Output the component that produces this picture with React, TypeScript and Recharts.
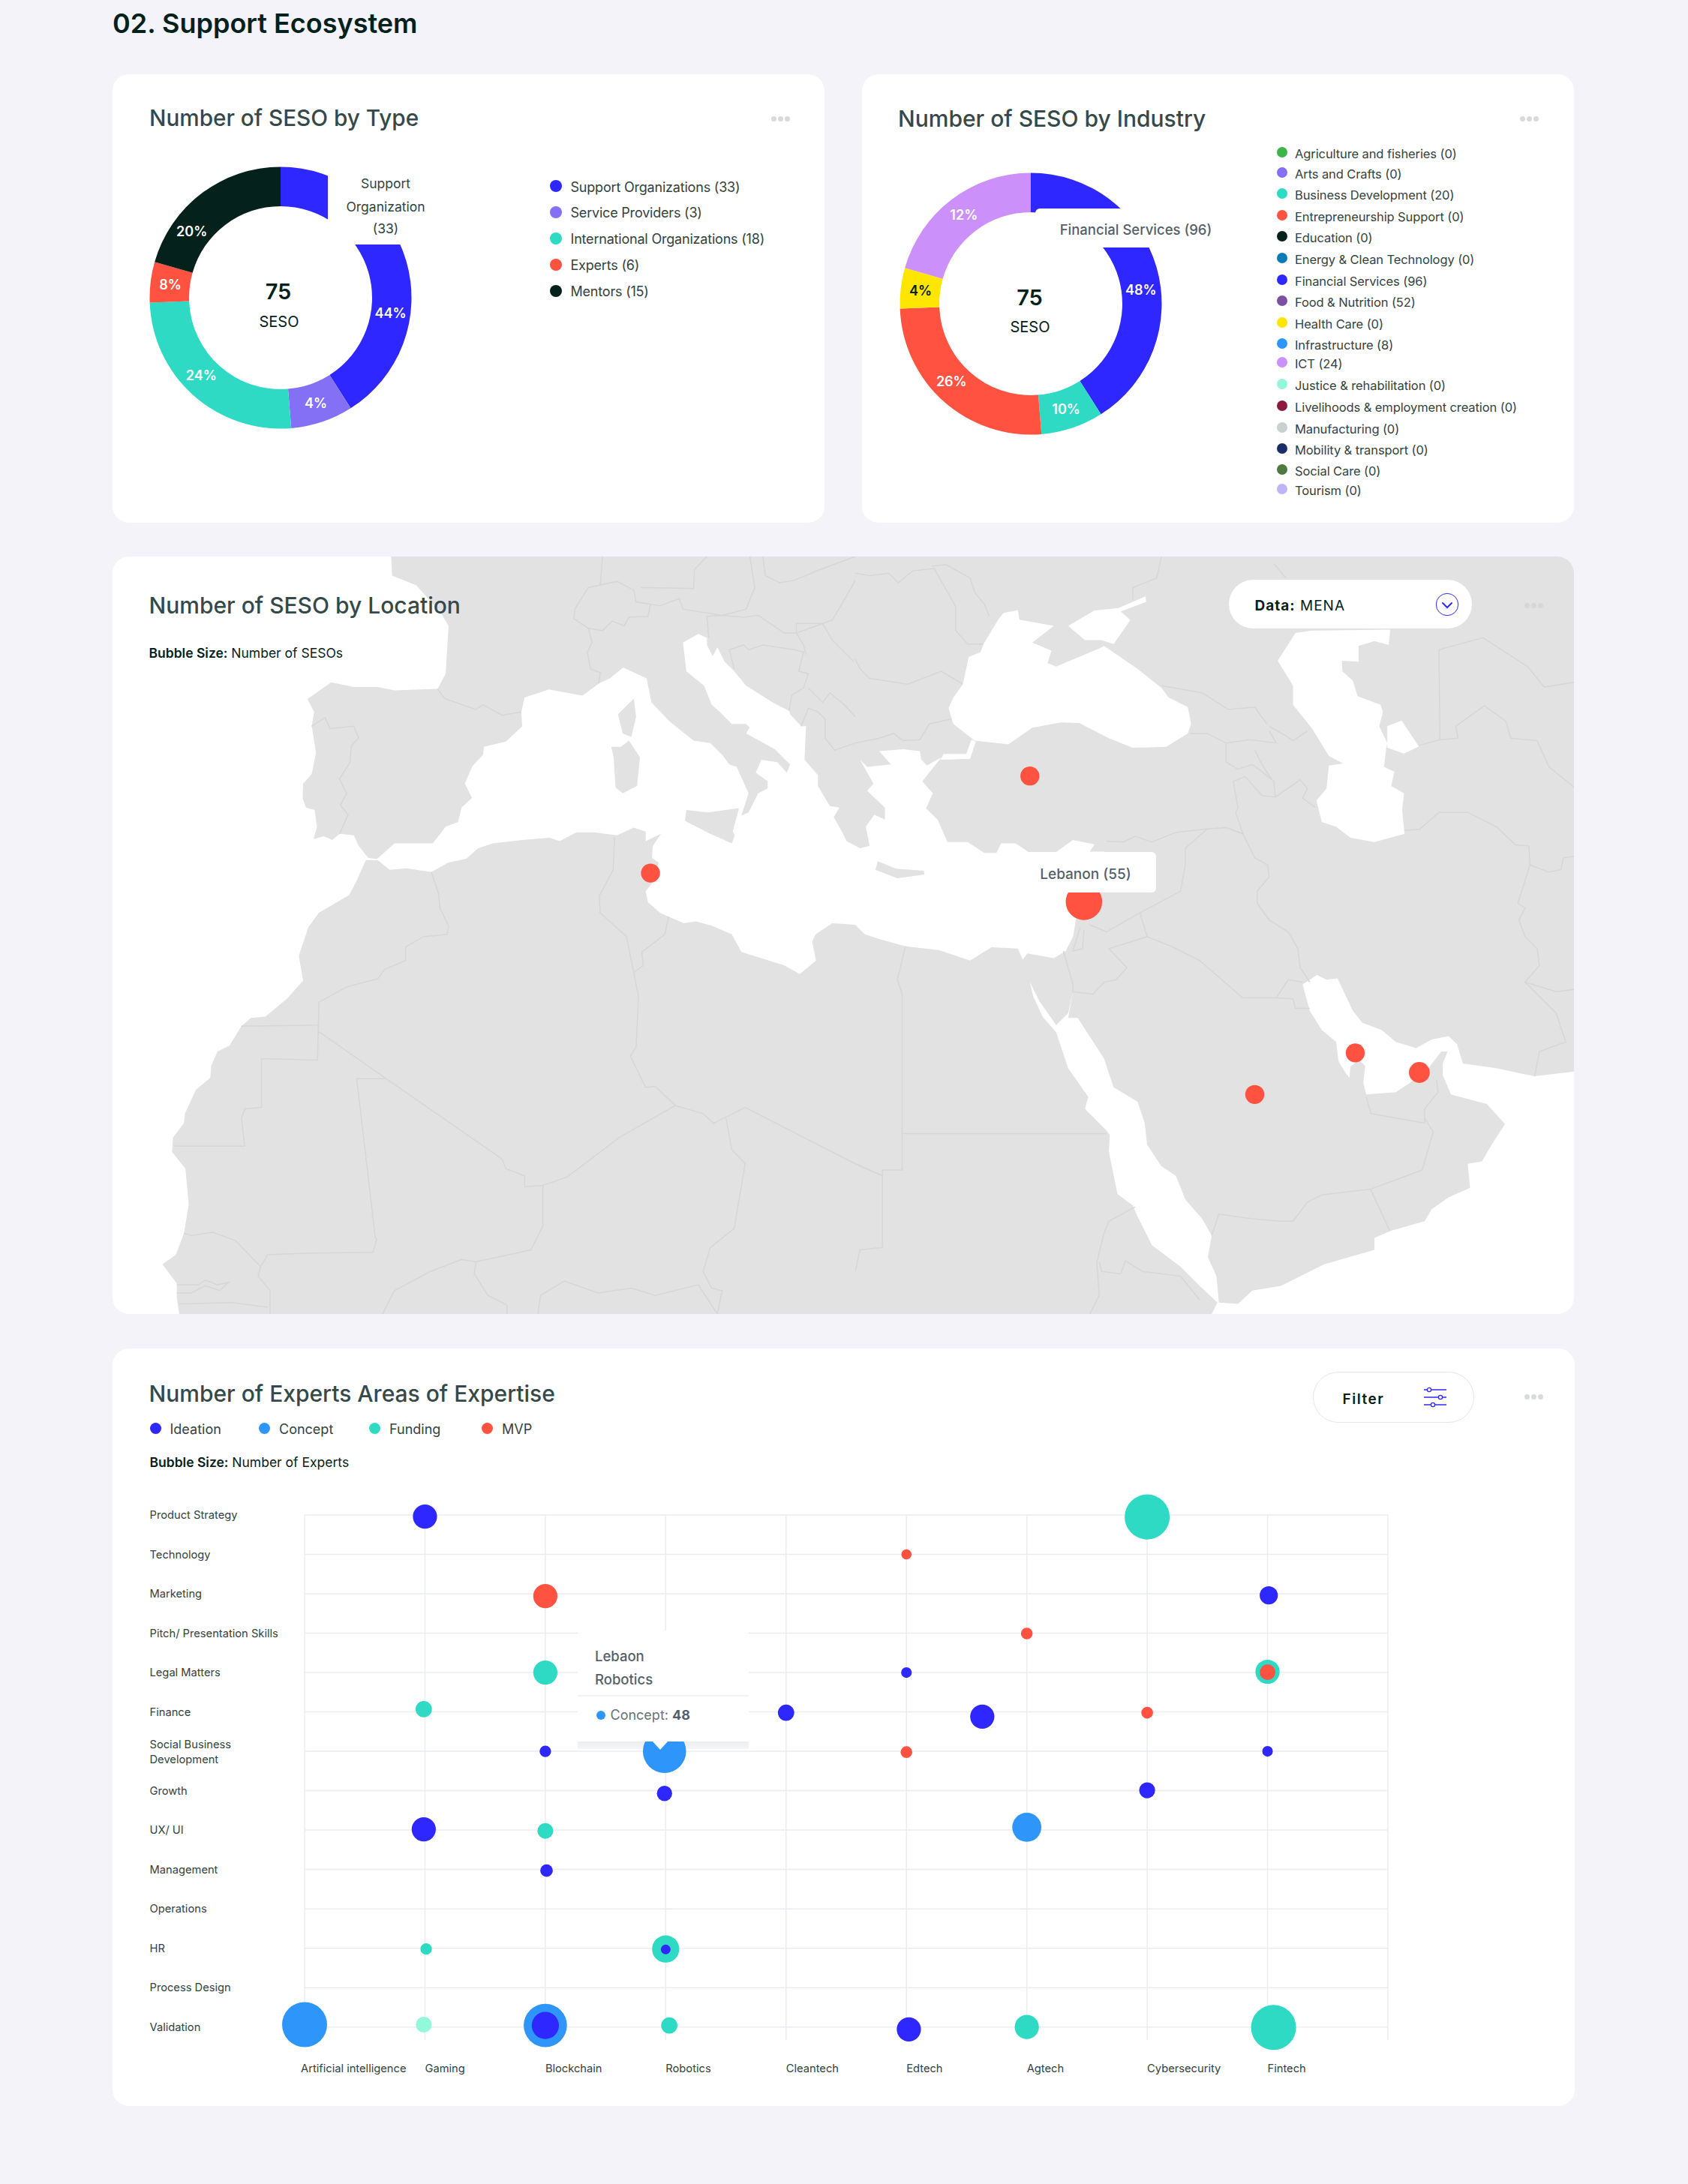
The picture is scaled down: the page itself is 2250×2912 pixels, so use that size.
import React from "react";
import { CartesianGrid, Cell, Pie, PieChart, Scatter, ScatterChart, XAxis, YAxis, ZAxis } from "recharts";

const FONT = "Inter, 'Noto Sans', sans-serif";
const PAGE = "#f3f3f9";
const INK = "#04211c";
const HEADING = "#36494a";
const BODY = "#33423f";
const TIP = "#555f6b";
const BLUE = "#2f27ff";
const SKY = "#2e96fb";
const TEAL = "#2edac4";
const RED = "#ff5240";
const VIOLET = "#8470f5";
const LILAC = "#cc90fb";
const YELLOW = "#ffe600";
const MINT = "#93f7da";
const LAND = "#e2e2e2";
const BORDER = "#d6d6d6";

// ---- SESO by type
const typeNames = ["Support Organizations (33)", "Service Providers (3)", "International Organizations (18)", "Experts (6)", "Mentors (15)"];
const typeSlices = [41, 7.7, 25.7, 5, 20.6];
const typePercents = ["44%", "4%", "24%", "8%", "20%"];
const typeColors = [BLUE, VIOLET, TEAL, RED, INK];
const typeLabelShift = [24, 0, 4, 0, -16];

// ---- SESO by industry
const industryNames = [
  "Agriculture and fisheries (0)", "Arts and Crafts (0)", "Business Development (20)", "Entrepreneurship Support (0)",
  "Education (0)", "Energy & Clean Technology (0)", "Financial Services (96)", "Food & Nutrition (52)", "Health Care (0)",
  "Infrastructure (8)", "ICT (24)", "Justice & rehabilitation (0)", "Livelihoods & employment creation (0)",
  "Manufacturing (0)", "Mobility & transport (0)", "Social Care (0)", "Tourism (0)",
];
const industryColors = [
  "#3db54a", VIOLET, TEAL, RED, INK, "#0a7cb4", BLUE, "#7d4fa0", YELLOW, SKY, LILAC, MINT, "#8b1a3c", "#c9d1cf", "#1a2d66", "#4d7b3e", "#bdb5f8",
];
const industryRows = [205, 232, 260, 289, 317, 346, 375, 403, 432, 460, 485, 514, 543, 572, 600, 628, 654];
const industrySlices = [41, 7.7, 25.7, 5, 20.6];
const industryPercents = ["48%", "10%", "26%", "4%", "12%"];
const industrySliceColors = [BLUE, TEAL, RED, YELLOW, LILAC];
const industryLabelShift = [9, 0, 4, 0, 0];

// ---- map outlines, west part and east part of the map share one coordinate space
const EAST = 1568;
const e = (pts: number[][]) => pts.map(([x, y]) => [x + EAST, y]);

const coastline = [
  [598, -5], [600, 35], [650, 55], [700, 110], [718, 140], [712, 240], [695, 272], [605, 275], [570, 268], [520, 268], [473, 258],
  [423, 293], [437, 320], [432, 350], [441, 405], [432, 450], [414, 470], [413, 500], [420, 520], [438, 525], [443, 560], [436, 586],
  [457, 580], [475, 588], [490, 575], [520, 578], [530, 600], [550, 625], [568, 628], [605, 595], [685, 595], [712, 560], [738, 550],
  [745, 520], [767, 500], [752, 470], [768, 433], [790, 410], [792, 393], [838, 382], [872, 350], [870, 320], [877, 290], [928, 273],
  [998, 286], [1033, 260], [1055, 250], [1083, 227], [1132, 250], [1142, 300], [1180, 340], [1230, 380], [1265, 385], [1290, 410],
  [1305, 430], [1320, 435], [1345, 490], [1330, 537], [1345, 530], [1365, 490], [1385, 480], [1385, 465], [1360, 447], [1372, 420],
  [1405, 425], [1425, 447], [1432, 430], [1400, 398], [1340, 365], [1347, 352], [1340, 345], [1310, 345], [1285, 320], [1268, 305],
  [1252, 265], [1215, 235], [1208, 175], [1240, 157], [1258, 165], [1258, 180], [1270, 203], [1280, 185], [1295, 215], [1315, 235],
  [1340, 265], [1395, 300], [1430, 318], [1432, 325], [1455, 350], [1465, 350], [1462, 420], [1490, 452], [1490, 475], [1515, 517],
  [1535, 520], [1523, 540], [1540, 570], [1550, 590],
  ...e([
    [10, 605], [30, 600], [22, 560], [40, 535], [62, 545], [62, 520], [25, 485], [38, 470], [10, 420], [25, 435], [75, 430], [50, 402],
    [100, 398], [135, 402], [138, 420], [150, 432], [180, 415], [140, 465], [162, 490], [148, 522], [172, 545], [193, 592], [235, 592],
    [270, 615], [295, 615], [305, 595], [335, 595], [362, 613], [420, 613], [455, 588], [500, 597], [490, 612], [520, 612], [500, 660],
    [485, 700], [475, 740], [462, 750], [455, 790], [440, 820], [415, 835], [360, 825], [350, 838], [340, 815], [285, 812], [240, 840],
    [175, 818], [105, 810], [50, 795], [20, 785], [0, 765],
  ]),
  [1520, 762], [1485, 785], [1478, 800], [1486, 840], [1452, 868], [1420, 850], [1330, 822], [1310, 785], [1268, 767], [1235, 758],
  [1210, 762], [1178, 748], [1160, 740], [1135, 718], [1130, 695], [1150, 670], [1157, 635], [1143, 625], [1145, 600], [1162, 575],
  [1130, 590], [1130, 570], [1105, 562], [1070, 578], [1025, 572], [985, 572], [950, 590], [930, 583], [880, 587], [810, 595], [780, 605],
  [755, 627], [718, 635], [682, 655], [630, 647], [595, 650], [570, 630], [545, 630], [525, 675], [510, 703], [447, 740], [425, 770],
  [405, 830], [414, 882], [380, 920], [335, 957], [305, 960], [285, 977], [260, 1018], [235, 1030], [222, 1060], [220, 1085], [190, 1110],
  [167, 1160], [165, 1180], [142, 1210], [140, 1240], [168, 1275], [175, 1350], [165, 1410], [148, 1455], [120, 1475], [150, 1515],
  [150, 1545], [155, 1579],
  ...e([
    [745, 1579], [757, 1555], [720, 1520], [680, 1480], [620, 1435], [590, 1375], [580, 1352], [548, 1328], [530, 1240], [532, 1205],
    [525, 1195], [480, 1150], [487, 1125], [445, 1065], [420, 990], [392, 958], [372, 915], [365, 885], [385, 925], [420, 975], [445, 950], [455, 905],
    [445, 960], [465, 960], [520, 1045], [540, 1105], [590, 1135], [605, 1180], [610, 1225], [640, 1270], [670, 1290], [690, 1340],
    [725, 1380], [745, 1415], [737, 1460], [755, 1500], [760, 1555], [800, 1558], [830, 1530], [890, 1520], [980, 1475], [1085, 1445],
    [1085, 1420], [1120, 1405], [1190, 1385], [1205, 1360], [1240, 1335], [1285, 1315], [1280, 1265], [1310, 1260], [1330, 1225],
    [1358, 1182], [1320, 1140], [1245, 1120], [1228, 1080], [1228, 1055], [1238, 1030], [1225, 1030], [1190, 1075], [1160, 1095],
    [1130, 1115], [1068, 1120], [1062, 1095], [1066, 1060], [1052, 1048], [1035, 1062], [1033, 1085], [1025, 1075], [1010, 1050],
    [1005, 1010], [975, 985], [950, 945], [935, 890], [965, 870],
    [985, 880], [1008, 877], [1040, 945], [1060, 970], [1100, 985], [1130, 1010], [1172, 1023], [1205, 1005], [1240, 998], [1258, 1015],
    [1270, 1055], [1340, 1065], [1420, 1082], [1503, 1072], [1568, 1072], [1568, -5],
  ]),
];

const islands = [
  [[1105, 292], [1110, 330], [1100, 372], [1082, 365], [1072, 325]],
  [[1095, 380], [1118, 415], [1112, 475], [1082, 490], [1067, 478], [1063, 415], [1058, 393], [1078, 393]],
  [[1215, 525], [1260, 530], [1325, 521], [1312, 570], [1316, 578], [1310, 595], [1265, 575], [1212, 548]],
  e([[47, 632], [85, 648], [143, 652], [145, 660], [88, 668], [42, 650]]),
];

const innerSeas = [
  e([
    [310, 113], [340, 107], [343, 127], [415, 140], [370, 175], [410, 192], [402, 218], [420, 225], [515, 185], [520, 182], [590, 230],
    [640, 270], [655, 290], [695, 310], [702, 345], [695, 365], [650, 393], [580, 395], [530, 375], [468, 343], [430, 342], [370, 353],
    [320, 388], [250, 380], [243, 375], [205, 345], [195, 312], [205, 290], [225, 262], [237, 205], [262, 195], [268, 178], [300, 125],
  ]),
  e([[445, 140], [500, 108], [550, 103], [607, 78], [608, 90], [555, 110], [575, 128], [540, 178], [515, 170], [480, 170]]),
  e([[243, 378], [252, 382], [240, 418], [178, 420], [185, 408], [232, 408]]),
  e([
    [955, 150], [1118, 148], [1115, 180], [1085, 172], [1052, 182], [1052, 215], [1017, 213], [1018, 235], [1040, 255], [1050, 287],
    [1098, 305], [1103, 320], [1095, 350], [1112, 385], [1110, 395], [1105, 435], [1127, 445], [1120, 475], [1147, 490], [1143, 525],
    [1148, 575], [1085, 592], [1035, 583], [1005, 560], [975, 550], [964, 505], [985, 480], [990, 432], [1020, 428], [990, 412],
    [955, 355], [915, 305], [915, 265], [883, 213], [920, 155],
  ]),
  e([[1112, 350], [1142, 338], [1178, 392], [1147, 407], [1112, 395]]),
];

const borders = [
  [[695, 272], [710, 292], [775, 315], [790, 305], [830, 327], [870, 320]],
  [[432, 350], [460, 332], [470, 355], [520, 350], [530, 375], [515, 390], [512, 425], [490, 460], [505, 490], [492, 515], [508, 535], [490, 575]],
  [[682, 655], [697, 700], [700, 730], [718, 768], [715, 785], [665, 790], [628, 812], [628, 840], [585, 858], [570, 878], [505, 895], [447, 927], [446, 975], [285, 977]],
  [[446, 975], [444, 1048], [327, 1045], [327, 1147], [292, 1150], [285, 1170], [292, 1228], [145, 1228]],
  [[446, 988], [585, 1085], [830, 1255], [838, 1275], [877, 1290], [877, 1313], [915, 1310], [965, 1293], [1075, 1210], [1192, 1143]],
  [[585, 1087], [526, 1087], [565, 1420], [568, 1422], [560, 1450], [415, 1452], [340, 1455], [325, 1480], [272, 1425], [225, 1408], [180, 1415], [165, 1410]],
  [[325, 1480], [320, 1500], [345, 1530], [345, 1579]],
  [[915, 1310], [915, 1395], [890, 1445], [775, 1470], [745, 1465], [680, 1490], [605, 1530], [580, 1579]],
  [[775, 1470], [772, 1495], [800, 1540], [840, 1560], [840, 1579]],
  [[905, 1579], [910, 1540], [960, 1510], [1030, 1535], [1100, 1525], [1150, 1540], [1240, 1518], [1280, 1579]],
  [[1298, 1170], [1310, 1235], [1338, 1265], [1315, 1400], [1265, 1440], [1250, 1490], [1268, 1525], [1290, 1530], [1280, 1579]],
  [[1065, 582], [1062, 650], [1033, 705], [1035, 740], [1090, 790], [1105, 865], [1115, 915], [1110, 1020], [1098, 1040], [1130, 1105], [1150, 1103], [1192, 1143], [1250, 1160], [1272, 1180], [1298, 1167], [1338, 1147], [1568, 1265], ...e([[57, 1290]])],
  [[1105, 865], [1125, 850], [1122, 822], [1170, 785], [1178, 748]],
  [[150, 1518], [195, 1518], [210, 1508], [235, 1518], [258, 1513], [240, 1530], [210, 1520], [180, 1535], [150, 1535]],
  [[155, 1558], [265, 1555], [340, 1565]],
  [[982, 105], [1010, 60], [1070, 47], [1105, 65], [1110, 90], [1160, 98], [1200, 83], [1208, 105], [1290, 118], [1340, 105], [1358, 60], [1348, -5]],
  [[980, 125], [1010, 145], [1018, 175], [1008, 195], [1015, 230], [1035, 238], [1032, 260]],
  [[982, 105], [980, 125]],
  [[1010, 145], [1040, 150], [1060, 130], [1085, 140], [1095, 122], [1135, 120], [1140, 95]],
  [[1040, -5], [1035, 55]],
  [[1120, 60], [1140, 60], [1230, 62], [1232, 22], [1258, -5]],
  [[1258, 120], [1262, 165]],
  [[1258, 120], [1290, 118], [1335, 122], [1365, 118], [1420, 155], [1445, 155], [1460, 180], [1465, 200]],
  [[1315, 230], [1305, 190], [1335, 180], [1345, 190], [1375, 180], [1440, 190], [1460, 195], [1450, 235], [1470, 240], [1460, 270], [1435, 285], [1430, 318]],
  [[1445, 155], [1445, 135], [1500, 135], [1520, 170], [1565, 215]],
  [[1470, 270], [1500, 300], [1515, 280], [1545, 305], [1568, 330]],
  [[1455, 350], [1470, 312], [1490, 320], [1505, 335], [1505, 375], [1525, 400], [1568, 385]],
  [[1445, 155], [1520, 128], [1560, 60], [1568, 45]],
  [[1375, -5], [1380, 35], [1410, 50], [1440, 45], [1500, 20], [1568, -5]],
  e([[0, 30], [30, 35], [70, 30], [90, 50], [120, 25], [165, 20], [210, 100], [210, 150], [235, 178], [268, 178]]),
  e([[160, 15], [190, 12], [240, 40], [250, 70], [270, 95], [280, 120]]),
  e([[0, 210], [10, 230], [30, 250], [110, 262], [180, 235], [225, 262]]),
  e([[0, 385], [50, 375], [80, 365], [100, 380], [135, 378], [155, 345], [200, 335]]),
  e([[525, 590], [560, 592], [585, 580], [620, 592], [670, 572], [730, 565], [775, 562], [810, 575], [795, 530], [800, 520], [790, 465], [815, 455], [850, 495], [878, 498], [875, 465], [850, 445], [830, 430], [800, 440], [775, 425], [775, 385], [735, 365], [700, 365]]),
  e([[775, 385], [825, 378], [880, 385], [865, 360]]),
  e([[835, 400], [850, 430], [870, 460]]),
  e([[878, 498], [930, 462], [945, 480], [935, 500], [962, 520]]),
  e([[865, 350], [900, 370], [915, 380], [945, 360]]),
  e([[810, 575], [835, 625], [862, 640], [865, 665], [840, 695], [840, 720], [865, 755], [905, 780], [925, 815], [930, 855], [950, 885]]),
  e([[735, 565], [690, 605], [690, 640], [680, 695], [595, 740], [610, 790]]),
  e([[490, 765], [525, 780], [595, 740]]),
  e([[610, 790], [530, 815], [568, 855], [545, 880], [520, 885], [497, 910], [455, 905]]),
  e([[470, 770], [455, 820], [475, 815], [478, 775]]),
  e([[435, 820], [455, 890], [455, 905]]),
  e([[610, 790], [660, 810], [720, 840], [810, 918], [880, 918], [905, 880], [935, 885]]),
  e([[880, 918], [915, 920], [920, 940], [950, 940]]),
  e([[105, 810], [88, 880], [98, 910], [98, 1278], [57, 1278], [57, 1440], [10, 1445], [0, 1490]]),
  e([[98, 1202], [525, 1202]]),
  e([[0, 1265], [57, 1290]]),
  e([[510, 1470], [515, 1490], [555, 1495], [565, 1468], [600, 1490], [680, 1500], [720, 1550]]),
  e([[530, 1385], [520, 1410], [505, 1470], [510, 1540], [490, 1579]]),
  e([[530, 1385], [585, 1355]]),
  e([[745, 1415], [760, 1370], [830, 1380], [890, 1385], [915, 1385], [945, 1345], [975, 1330], [1077, 1318], [1185, 1278], [1208, 1198], [1190, 1170]]),
  e([[1077, 1318], [1117, 1405]]),
  e([[1068, 1125], [1078, 1160], [1190, 1180], [1190, 1150], [1218, 1115], [1215, 1090]]),
  e([[1420, 1082], [1430, 1030], [1485, 1010], [1465, 950], [1400, 885], [1430, 850], [1425, 815], [1400, 790], [1387, 755], [1400, 730], [1385, 720], [1410, 640], [1408, 600], [1380, 598], [1340, 560], [1280, 530], [1220, 530], [1180, 565], [1148, 568]]),
  e([[1400, 885], [1465, 905], [1503, 900]]),
  e([[1410, 640], [1450, 655], [1475, 650], [1480, 625], [1503, 622]]),
  e([[1503, 478], [1450, 435], [1425, 380], [1370, 375], [1360, 340], [1315, 307], [1255, 350], [1260, 375], [1222, 378], [1178, 390]]),
  e([[1222, 378], [1220, 190], [1312, 165], [1405, 225], [1440, 268], [1503, 258]]),
  e([[640, 265], [725, 280], [780, 315], [835, 310], [860, 345]]),
  e([[640, -5], [630, 40], [580, 60], [580, 85]]),
  e([[875, 10], [900, 40]]),
];

const locationNames = ["Tunisia", "Turkey", "Lebanon", "Saudi Arabia", "Bahrain", "UAE"];
const locationX = [1140, 1933, 2046, 2403, 2613, 2747];
const locationY = [657, 454, 717, 1120, 1033, 1074];
const locationCounts = [15, 15, 55, 15, 15, 18];
const locations = locationNames.map((name, i) => ({ name, x: locationX[i], y: locationY[i], z: locationCounts[i] }));

// ---- experts bubbles: [column, row, experts]
const expertColumns = ["Artificial intelligence", "Gaming", "Blockchain", "Robotics", "Cleantech", "Edtech", "Agtech", "Cybersecurity", "Fintech"];
const expertRows = [
  "Product Strategy", "Technology", "Marketing", "Pitch/ Presentation Skills", "Legal Matters", "Finance", "Social Business|Development",
  "Growth", "UX/ UI", "Management", "Operations", "HR", "Process Design", "Validation",
];
const expertLegend = ["Ideation", "Concept", "Funding", "MVP"];
const ideation = [
  [1, 0.04, 15], [2, 6, 3.4], [2.99, 7.07, 6], [0.99, 7.98, 15], [2.01, 9.03, 4], [3, 11.03, 2.4], [2, 12.96, 19], [4, 5.02, 6.8],
  [8.01, 2.04, 8.4], [5, 4, 2.9], [5.63, 5.12, 15], [8, 6, 2.9], [7, 6.99, 6.5], [5.02, 13.06, 15],
];
const concept = [[0, 12.94, 52], [2, 12.96, 48], [2.99, 6, 48], [6, 7.93, 21.7]];
const funding = [
  [0.99, 4.93, 6.8], [2, 4, 15], [2, 8.02, 6.4], [1.01, 11.02, 3.4], [3, 11.02, 19], [3.03, 12.96, 6.8], [7, 0.05, 52], [8, 3.98, 15],
  [6, 13, 15], [8.05, 13.01, 52],
];
const untagged = [[0.99, 12.94, 6.4]];
const mvp = [[2, 2.06, 15], [5, 1, 2.7], [6, 3.01, 3.5], [8, 3.99, 6.3], [7, 5.02, 3.5], [5, 6.02, 3.5]];

const asPoints = (pts: number[][]) => pts.map(([x, y]) => ({ x, y }));
const asBubbles = (pts: number[][]) => pts.map(([x, y, z]) => ({ x, y, z }));
const NoMark = () => null;

function Txt({ x, y, size = 20, weight = 400, color = BODY, anchor = "start", ls = 0, children }: any) {
  const shift = anchor === "middle" ? "-50%" : "0";
  return (
    <div
      style={{
        position: "absolute", left: x, top: y, transform: `translate(${shift}, -50%)`, fontFamily: FONT, fontSize: size,
        fontWeight: weight, color, letterSpacing: ls, whiteSpace: "nowrap", lineHeight: 1,
      }}
    >
      {children}
    </div>
  );
}

function Card({ x, y, w, h }: any) {
  return <div style={{ position: "absolute", left: x, top: y, width: w, height: h, background: "#fff", borderRadius: 22 }} />;
}

function Dots({ x, y, color = "#d9dadc" }: any) {
  return (
    <>
      {[0, 9, 18].map((d) => (
        <div key={d} style={{ position: "absolute", left: x + d, top: y - 3.5, width: 7, height: 7, borderRadius: "50%", background: color }} />
      ))}
    </>
  );
}

function LegendDot({ x, y, r, color }: any) {
  return <div style={{ position: "absolute", left: x - r, top: y - r, width: r * 2, height: r * 2, borderRadius: "50%", background: color }} />;
}

function Donut({ x, y, slices, percents, colors, shifts }: any) {
  const data = slices.map((value: number, i: number) => ({ name: percents[i], value }));
  const renderLabel = (p: any) => {
    const a = ((p.midAngle - shifts[p.index]) * Math.PI) / 180;
    return (
      <text
        x={p.cx + 148 * Math.cos(a)} y={p.cy - 148 * Math.sin(a)} textAnchor="middle" dominantBaseline="central"
        fontFamily={FONT} fontSize={18} fontWeight={600} fill={colors[p.index] === YELLOW ? INK : "#fff"}
      >
        {percents[p.index]}
      </text>
    );
  };
  return (
    <div style={{ position: "absolute", left: x - 200, top: y - 200 }}>
      <PieChart width={400} height={400} margin={{ top: 0, right: 0, bottom: 0, left: 0 }}>
        <Pie
          data={data} dataKey="value" cx={200} cy={200} innerRadius={122} outerRadius={174.5} startAngle={90} endAngle={-270}
          stroke="none" label={renderLabel} labelLine={false} isAnimationActive={false}
        >
          {data.map((d: any, i: number) => <Cell key={d.name} fill={colors[i]} />)}
        </Pie>
      </PieChart>
    </div>
  );
}

function LocationMap() {
  return (
    <div style={{ position: "absolute", left: 150, top: 742, width: 1948, height: 1010, borderRadius: 22, overflow: "hidden", background: "#fff" }}>
      <div style={{ position: "absolute", left: -10, top: 0 }}>
        <ScatterChart width={2000} height={1010} margin={{ top: 0, right: 0, bottom: 0, left: 0 }}>
          <XAxis type="number" dataKey="x" domain={[0, 3136]} hide />
          <YAxis type="number" dataKey="y" domain={[-5, 1579]} reversed hide />
          <ZAxis type="number" dataKey="z" domain={[0, 55]} range={[0, 1855]} />
          <Scatter data={asPoints(coastline)} shape={NoMark} line={{ fill: LAND, stroke: "none" }} lineJointType="linearClosed" isAnimationActive={false} />
          {islands.map((pts, i) => (
            <Scatter key={`i${i}`} data={asPoints(pts)} shape={NoMark} line={{ fill: LAND, stroke: "none" }} lineJointType="linearClosed" isAnimationActive={false} />
          ))}
          {borders.map((pts, i) => (
            <Scatter key={`b${i}`} data={asPoints(pts)} shape={NoMark} line={{ fill: "none", stroke: BORDER, strokeWidth: 1.5 }} lineJointType="linear" isAnimationActive={false} />
          ))}
          {innerSeas.map((pts, i) => (
            <Scatter key={`s${i}`} data={asPoints(pts)} shape={NoMark} line={{ fill: "#fff", stroke: "none" }} lineJointType="linearClosed" isAnimationActive={false} />
          ))}
          <Scatter data={locations} fill={RED} isAnimationActive={false} />
        </ScatterChart>
      </div>
    </div>
  );
}

function ExpertColumnTick({ x, y, payload, index }: any) {
  return (
    <text x={x - (index === 0 ? 5 : 0)} y={y + 30} textAnchor="start" dominantBaseline="central" fontFamily={FONT} fontSize={14.7} fill={BODY}>
      {expertColumns[payload.value] ?? ""}
    </text>
  );
}

function ExpertRowTick({ y, payload }: any) {
  const lines = expertRows[payload.value].split("|");
  return (
    <text x={49.5} y={y} fontFamily={FONT} fontSize={14.7} fill={BODY} dominantBaseline="central">
      {lines.map((line, i) => (
        <tspan key={line} x={49.5} dy={lines.length > 1 ? (i === 0 ? -9 : 20) : 0}>{line}</tspan>
      ))}
    </text>
  );
}

function ExpertBubbles() {
  const series: [number[][], string][] = [[concept, SKY], [funding, TEAL], [untagged, MINT], [mvp, RED], [ideation, BLUE]];
  return (
    <div style={{ position: "absolute", left: 150, top: 1960 }}>
      <ScatterChart width={1950} height={840} margin={{ top: 60, right: 250, bottom: 0, left: 0 }}>
        <CartesianGrid stroke="#ebecf0" strokeWidth={1.5} syncWithTicks />
        <XAxis
          type="number" dataKey="x" domain={[0, 9]} ticks={[0, 1, 2, 3, 4, 5, 6, 7, 8, 9]} interval={0} height={80}
          tick={ExpertColumnTick} tickLine={false} axisLine={false}
        />
        <YAxis
          type="number" dataKey="y" domain={[0, 13.33]} ticks={[0, 1, 2, 3, 4, 5, 6, 7, 8, 9, 10, 11, 12, 13]} interval={0} width={256}
          reversed tick={ExpertRowTick} tickLine={false} axisLine={false}
        />
        <ZAxis type="number" dataKey="z" domain={[0, 52]} range={[0, 2827]} />
        {series.map(([pts, color]) => (
          <Scatter key={color} data={asBubbles(pts)} fill={color} isAnimationActive={false} />
        ))}
      </ScatterChart>
    </div>
  );
}

export default function App() {
  return (
    <div style={{ position: "absolute", left: 0, top: 0, width: 2250, height: 2912, background: PAGE, overflow: "hidden" }}>
      <Txt x={150} y={31} size={36} weight={600} color={INK}>02. Support Ecosystem</Txt>

      <Card x={150} y={99} w={949} h={598} />
      <Txt x={199} y={158} size={29.7} weight={500} color={HEADING}>Number of SESO by Type</Txt>
      <Dots x={1028} y={158} />
      <Donut x={373.5} y={397} slices={typeSlices} percents={typePercents} colors={typeColors} shifts={typeLabelShift} />
      <Txt x={371} y={388} size={29} weight={600} color={INK} anchor="middle">75</Txt>
      <Txt x={372} y={429} size={20} color={INK} anchor="middle">SESO</Txt>
      <div style={{ position: "absolute", left: 437, top: 208, width: 156, height: 118, background: "#fff", borderRadius: 6 }} />
      <Txt x={514} y={245} size={17.5} color={BODY} anchor="middle">Support</Txt>
      <Txt x={514} y={276} size={17.5} color={BODY} anchor="middle">Organization</Txt>
      <Txt x={514} y={305} size={17.5} color={BODY} anchor="middle">(33)</Txt>
      {typeNames.map((name, i) => (
        <React.Fragment key={name}>
          <LegendDot x={741} y={[248, 283, 318, 353, 388][i]} r={8} color={typeColors[i]} />
          <Txt x={760.5} y={[250, 284, 319, 354, 389][i]} size={18} ls={-0.2}>{name}</Txt>
        </React.Fragment>
      ))}

      <Card x={1149} y={99} w={949} h={598} />
      <Txt x={1197} y={158} size={30} weight={500} color={HEADING}>Number of SESO by Industry</Txt>
      <Dots x={2026} y={158} />
      <Donut x={1373.7} y={404.6} slices={industrySlices} percents={industryPercents} colors={industrySliceColors} shifts={industryLabelShift} />
      <Txt x={1372.5} y={395.5} size={29} weight={600} color={INK} anchor="middle">75</Txt>
      <Txt x={1373} y={436} size={20} color={INK} anchor="middle">SESO</Txt>
      <div style={{ position: "absolute", left: 1380, top: 278, width: 265, height: 52, background: "#fff", borderRadius: 6 }} />
      <Txt x={1514} y={305.5} size={18.5} weight={500} color={TIP} anchor="middle">Financial Services (96)</Txt>
      {industryNames.map((name, i) => (
        <React.Fragment key={name}>
          <LegendDot x={1709} y={industryRows[i] - 2} r={7} color={industryColors[i]} />
          <Txt x={1726} y={industryRows[i]} size={16.5} ls={-0.1}>{name}</Txt>
        </React.Fragment>
      ))}

      <LocationMap />
      <Txt x={198.5} y={807} size={30} weight={500} color={HEADING}>Number of SESO by Location</Txt>
      <Txt x={198.5} y={870.5} size={17.5} color={INK}><b style={{ fontWeight: 600 }}>Bubble Size:</b> Number of SESOs</Txt>
      <div style={{ position: "absolute", left: 1637.5, top: 773, width: 324, height: 65, background: "#fff", borderRadius: 33 }} />
      <Txt x={1672.5} y={807} size={19} color={INK} ls={1}><b style={{ fontWeight: 700 }}>Data:</b> MENA</Txt>
      <svg style={{ position: "absolute", left: 1912, top: 789 }} width={34} height={34} viewBox="0 0 34 34">
        <circle cx={17} cy={17} r={14.7} fill="none" stroke={BLUE} strokeWidth={1} />
        <path d="M11 15 L17 21 L23 15" fill="none" stroke={BLUE} strokeWidth={2} strokeLinecap="round" />
      </svg>
      <Dots x={2032} y={807.5} color="#d6d6d6" />
      <div style={{ position: "absolute", left: 1370, top: 1136, width: 170.5, height: 54, background: "#fff", borderRadius: 6 }} />
      <Txt x={1447} y={1164.5} size={19} weight={500} color={TIP} anchor="middle">Lebanon (55)</Txt>

      <Card x={150} y={1798} w={1949} h={1010} />
      <Txt x={198.5} y={1858} size={30} weight={500} color={HEADING}>Number of Experts Areas of Expertise</Txt>
      {expertLegend.map((name, i) => (
        <React.Fragment key={name}>
          <LegendDot x={[207, 352.5, 499.5, 649.5][i]} y={1904.5} r={7.5} color={[BLUE, SKY, TEAL, RED][i]} />
          <Txt x={[226.5, 372, 519, 669][i]} y={1906} size={18} color={BODY}>{name}</Txt>
        </React.Fragment>
      ))}
      <Txt x={199.5} y={1949.5} size={17.5} color={INK}><b style={{ fontWeight: 600 }}>Bubble Size:</b> Number of Experts</Txt>
      <div style={{ position: "absolute", left: 1749.5, top: 1829, width: 213, height: 66, border: "1.5px solid #e6e6ea", borderRadius: 34, boxSizing: "content-box" }} />
      <Txt x={1789.5} y={1864.5} size={19} weight={600} color={INK} ls={1.5}>Filter</Txt>
      <svg style={{ position: "absolute", left: 1896, top: 1848 }} width={34} height={30} viewBox="0 0 34 30" fill="#fff" stroke={BLUE} strokeWidth={1.3}>
        <path d="M2 5 H32 M2 15 H32 M2 25 H32" />
        <circle cx={9} cy={5} r={2.6} />
        <circle cx={24} cy={15} r={2.6} />
        <circle cx={14} cy={25} r={2.6} />
      </svg>
      <Dots x={2031.5} y={1862} />
      <div style={{ position: "absolute", left: 770, top: 2322, width: 228, height: 10, background: "linear-gradient(#ecedf0, #f6f6f8)" }} />
      <ExpertBubbles />
      <div style={{ position: "absolute", left: 770, top: 2174, width: 228, height: 148, background: "#fff" }} />
      <div style={{ position: "absolute", left: 870, top: 2322, width: 20, height: 11, background: "#fff", clipPath: "polygon(0 0, 100% 0, 50% 100%)" }} />
      <Txt x={793} y={2208} size={18.5} weight={500} color={TIP}>Lebaon</Txt>
      <Txt x={793} y={2239} size={18.5} weight={500} color={TIP}>Robotics</Txt>
      <div style={{ position: "absolute", left: 770, top: 2260, width: 228, height: 1.5, background: "#f3f3f5" }} />
      <LegendDot x={800.5} y={2287} r={6} color={SKY} />
      <Txt x={813.5} y={2287} size={18} color="#6a7078">Concept: <b style={{ fontWeight: 700, color: TIP }}>48</b></Txt>
    </div>
  );
}
